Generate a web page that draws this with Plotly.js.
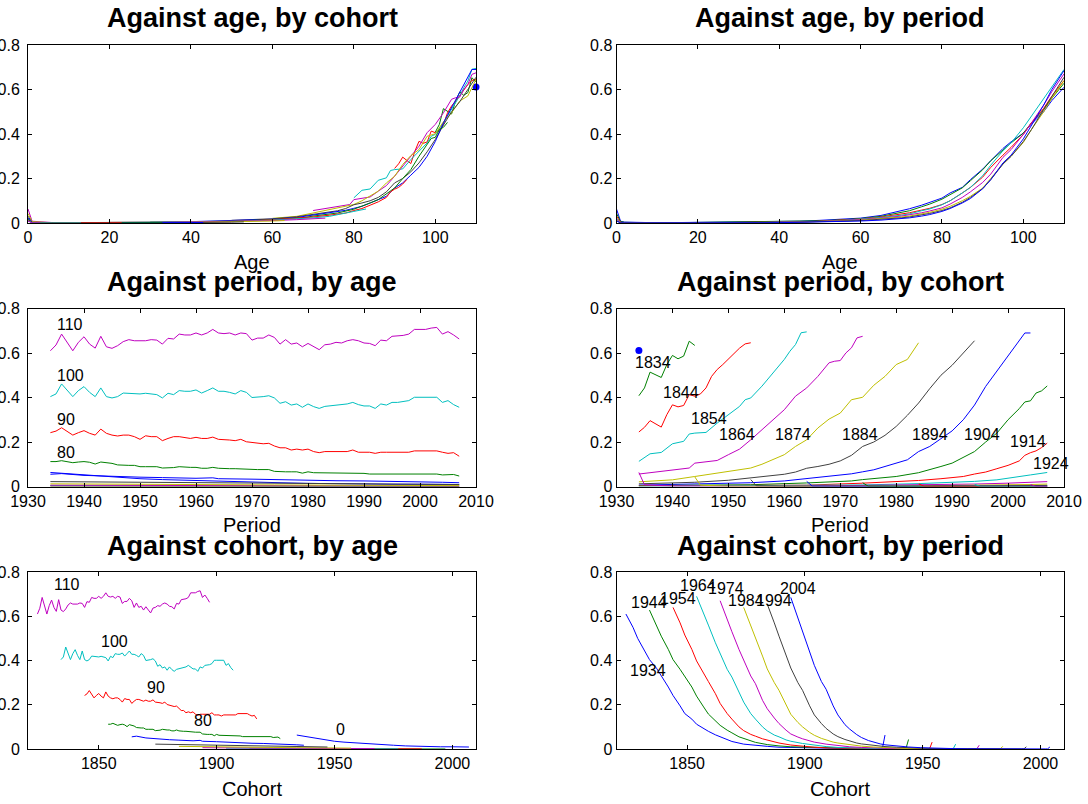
<!DOCTYPE html>
<html><head><meta charset="utf-8">
<script src="https://cdn.plot.ly/plotly-3.0.1.min.js"></script>
<style>html,body{margin:0;padding:0;background:#fff}#chart{width:1088px;height:804px}</style>
</head><body><div id="chart"></div>
<script>
// ---------------- data ----------------
const colorOrder = ['#0000ff','#008000','#ff0000','#00bfbf','#bf00bf','#bfbf00','#404040'];

// ---- by age (against period / against cohort) ----
const ageGroups = [0,10,20,30,40,50,60,70,80,90,100,110];
const yearsFull = [];
for (let y = 1934; y <= 2007; y++) yearsFull.push(y);
const sparsePeriods = [1934,1944,1954,1964,1974,1984,1994,2007];

const age0Periods = [1934,1937,1940,1944,1947,1950,1954,1958,1962,1966,1970,1975,1980,1985,1990,1995,2000,2004,2007];
const age0Q = [0.063,0.058,0.05,0.043,0.04,0.035,0.031,0.028,0.024,0.021,0.019,0.017,0.014,0.012,0.011,0.01,0.01,0.009,0.009];
const age10Q = [0.0012,0.0008,0.0005,0.0004,0.0003,0.0002,0.0002,0.0001];
const age20Q = [0.003,0.0025,0.001,0.001,0.001,0.0008,0.0007,0.0005];
const age30Q = [0.004,0.003,0.0015,0.001,0.001,0.001,0.0009,0.0008];
const age40Q = [0.006,0.005,0.003,0.003,0.0025,0.002,0.002,0.0015];
const age50Q = [0.012,0.01,0.008,0.007,0.007,0.006,0.005,0.004];
const age60Q = [0.022,0.02,0.018,0.017,0.015,0.013,0.011,0.009];
const age70Periods = [1934,1936,1940,1944,1950,1954,1960,1963,1964,1970,1975,1980,1985,1990,1995,2000,2004,2007];
const age70Q = [0.055,0.058,0.05,0.046,0.042,0.04,0.037,0.039,0.035,0.033,0.03,0.027,0.026,0.025,0.024,0.022,0.019,0.017];
const age80Q = [
 0.112,0.112,0.116,0.112,0.107,0.11,0.112,0.109,0.101,0.11,
 0.107,0.104,0.097,0.095,0.095,0.095,0.089,0.089,0.089,0.089,
 0.083,0.083,0.085,0.089,0.086,0.086,0.086,0.082,0.082,0.086,
 0.082,0.08,0.08,0.08,0.08,0.077,0.077,0.076,0.076,0.076,
 0.068,0.066,0.066,0.066,0.066,0.06,0.066,0.062,0.062,0.062,
 0.062,0.062,0.059,0.059,0.059,0.059,0.059,0.056,0.056,0.056,
 0.056,0.056,0.056,0.056,0.056,0.056,0.056,0.056,0.056,0.056,
 0.052,0.052,0.054,0.047];
const age90Q = [
 0.242,0.249,0.264,0.249,0.231,0.242,0.251,0.239,0.231,0.258,
 0.239,0.231,0.227,0.231,0.231,0.224,0.212,0.228,0.224,0.224,
 0.206,0.216,0.224,0.224,0.219,0.216,0.221,0.216,0.216,0.222,
 0.212,0.212,0.209,0.206,0.212,0.201,0.198,0.197,0.192,0.194,
 0.182,0.174,0.174,0.164,0.168,0.164,0.168,0.157,0.152,0.157,
 0.157,0.157,0.157,0.157,0.164,0.154,0.154,0.154,0.149,0.154,
 0.154,0.154,0.154,0.154,0.154,0.16,0.16,0.16,0.16,0.16,
 0.154,0.149,0.152,0.136];
const age100Q = [
 0.404,0.416,0.461,0.431,0.404,0.431,0.449,0.423,0.404,0.443,
 0.404,0.398,0.404,0.42,0.419,0.416,0.416,0.419,0.416,0.413,
 0.398,0.419,0.413,0.431,0.428,0.428,0.434,0.42,0.431,0.443,
 0.428,0.428,0.423,0.416,0.431,0.423,0.4,0.401,0.404,0.408,
 0.398,0.374,0.381,0.366,0.371,0.356,0.371,0.359,0.351,0.36,
 0.362,0.366,0.368,0.371,0.378,0.368,0.362,0.362,0.351,0.371,
 0.366,0.378,0.378,0.381,0.386,0.401,0.401,0.401,0.401,0.401,
 0.378,0.386,0.368,0.356];
const age110Q = [
 0.61,0.636,0.685,0.648,0.61,0.648,0.673,0.64,0.622,0.675,
 0.628,0.621,0.633,0.651,0.66,0.655,0.655,0.655,0.66,0.658,
 0.64,0.666,0.663,0.685,0.681,0.681,0.69,0.681,0.69,0.706,
 0.69,0.687,0.69,0.681,0.69,0.687,0.658,0.667,0.667,0.681,
 0.67,0.64,0.66,0.64,0.645,0.628,0.643,0.63,0.615,0.637,
 0.64,0.648,0.645,0.655,0.66,0.655,0.645,0.643,0.633,0.658,
 0.655,0.675,0.676,0.679,0.685,0.706,0.706,0.706,0.712,0.715,
 0.685,0.696,0.681,0.663];
const agePeriods = [age0Periods, sparsePeriods, sparsePeriods, sparsePeriods, sparsePeriods, sparsePeriods,
                    sparsePeriods, age70Periods, yearsFull, yearsFull, yearsFull, yearsFull];
const ageValues = [age0Q, age10Q, age20Q, age30Q, age40Q, age50Q, age60Q, age70Q, age80Q, age90Q, age100Q, age110Q];

// ---- by cohort (against age / against period) ----
const cohorts = [1824,1834,1844,1854,1864,1874,1884,1894,1904,1914,1924,1934,1944,1954,1964,1974,1984,1994,2004];
const cohortPeriods = [
 [1934],
 [1934,1935,1936,1937,1938,1939,1940,1941,1942,1943,1944],
 [1934,1935,1936,1937,1938,1939,1940,1941,1942,1943,1944,1945,1946,1947,1948,1949,1950,1951,1952,1953,1954],
 [1934,1936,1938,1940,1942,1943,1944,1946,1948,1950,1952,1953,1954,1956,1958,1960,1961,1962,1963,1964],
 [1934,1937,1940,1943,1944,1946,1948,1950,1952,1954,1956,1958,1960,1962,1964,1966,1968,1969,1970,1971,1972,1973,1974],
 [1934,1940,1944,1948,1950,1952,1954,1956,1958,1960,1962,1964,1966,1968,1970,1972,1974,1976,1978,1980,1982,1983,1984],
 [1934,1940,1944,1950,1954,1958,1960,1962,1964,1966,1968,1970,1972,1974,1976,1978,1980,1982,1984,1986,1988,1990,1992,1993,1994],
 [1934,1944,1954,1960,1964,1968,1972,1974,1976,1978,1980,1982,1984,1986,1988,1990,1992,1994,1996,1998,2000,2002,2003,2004],
 [1934,1944,1954,1964,1972,1974,1978,1980,1984,1986,1988,1990,1992,1994,1996,1998,2000,2002,2003,2004,2005,2006,2007],
 [1934,1944,1954,1964,1974,1980,1984,1988,1990,1992,1994,1996,1998,2000,2002,2003,2004,2005,2006,2007],
 [1934,1944,1954,1964,1974,1984,1990,1994,1998,2000,2002,2004,2007],
 [1934,1935,1940,1944,1954,1964,1974,1984,1994,2000,2004,2007],
 [1944,1945,1950,1954,1964,1974,1984,1994,2004,2007],
 [1954,1955,1960,1964,1974,1984,1994,2004,2007],
 [1964,1965,1970,1974,1984,1994,2004,2007],
 [1974,1975,1980,1984,1994,2004,2007],
 [1984,1985,1990,1994,2004,2007],
 [1994,1995,2000,2004,2007],
 [2004,2005,2007]
];
const cohortValues = [
 [0.611],
 [0.408,0.443,0.514,0.503,0.49,0.548,0.589,0.574,0.586,0.653,0.634],
 [0.245,0.266,0.296,0.282,0.267,0.323,0.367,0.358,0.364,0.413,0.406,0.416,0.443,0.495,0.526,0.548,0.574,0.598,0.622,0.641,0.646],
 [0.113,0.147,0.153,0.192,0.203,0.236,0.24,0.243,0.285,0.323,0.36,0.39,0.398,0.451,0.511,0.571,0.608,0.638,0.691,0.695],
 [0.056,0.065,0.075,0.083,0.105,0.11,0.117,0.143,0.168,0.21,0.255,0.303,0.345,0.406,0.443,0.495,0.556,0.563,0.566,0.6,0.623,0.668,0.675],
 [0.021,0.03,0.045,0.06,0.068,0.075,0.083,0.1,0.12,0.143,0.18,0.21,0.263,0.303,0.33,0.39,0.401,0.455,0.495,0.548,0.571,0.608,0.646],
 [0.012,0.015,0.019,0.028,0.04,0.05,0.055,0.065,0.082,0.09,0.1,0.115,0.14,0.18,0.2,0.23,0.27,0.32,0.375,0.44,0.5,0.545,0.6,0.63,0.655],
 [0.006,0.01,0.017,0.025,0.035,0.045,0.057,0.066,0.075,0.09,0.105,0.12,0.157,0.18,0.215,0.25,0.3,0.366,0.45,0.52,0.59,0.66,0.69,0.69],
 [0.004,0.006,0.008,0.016,0.025,0.031,0.04,0.045,0.062,0.075,0.09,0.105,0.13,0.157,0.2,0.24,0.3,0.35,0.38,0.385,0.42,0.43,0.452],
 [0.003,0.004,0.003,0.006,0.015,0.022,0.027,0.035,0.04,0.045,0.056,0.065,0.08,0.095,0.115,0.14,0.152,0.16,0.175,0.195],
 [0.0012,0.0025,0.002,0.003,0.007,0.013,0.018,0.023,0.03,0.037,0.042,0.052,0.063],
 [0.063,0.008,0.002,0.0012,0.001,0.002,0.004,0.007,0.011,0.015,0.019,0.022],
 [0.043,0.006,0.001,0.0008,0.001,0.0015,0.003,0.005,0.009,0.011],
 [0.031,0.003,0.0006,0.0005,0.001,0.001,0.002,0.004,0.005],
 [0.023,0.002,0.0005,0.0004,0.0008,0.001,0.0015,0.002],
 [0.017,0.0012,0.0004,0.0003,0.0007,0.0008,0.001],
 [0.012,0.0008,0.0003,0.0002,0.0007,0.0008],
 [0.01,0.0006,0.0002,0.0001,0.0003],
 [0.009,0.0004,0.0002]
];

// ---- by period (against age / against cohort) ----
const periods = [1934,1944,1954,1964,1974,1984,1994,2004];
const periodAges = [0,1,2,5,10,15,20,25,30,35,40,45,50,55,60,65,70,72,75,77,80,82,85,87,90,92,95,97,100,102,105,107,110];
const q1934 = [0.063,0.008,0.004,0.002,0.0012,0.002,0.003,0.0035,0.004,0.0045,0.006,0.008,0.012,0.016,0.022,0.034,
               0.055,0.064,0.08,0.092,0.112,0.135,0.16,0.195,0.242,0.28,0.335,0.365,0.404,0.445,0.5,0.55,0.61];
const q1944 = [0.043,0.006,0.003,0.0015,0.0008,0.0015,0.0025,0.003,0.003,0.004,0.005,0.007,0.01,0.014,0.02,0.03,
               0.046,0.055,0.073,0.085,0.107,0.128,0.158,0.19,0.239,0.28,0.33,0.36,0.404,0.45,0.51,0.56,0.628];
const q1954 = [0.031,0.003,0.0015,0.0008,0.0005,0.0007,0.001,0.0012,0.0015,0.002,0.003,0.005,0.008,0.012,0.018,0.027,
               0.04,0.046,0.058,0.066,0.083,0.1,0.135,0.16,0.206,0.25,0.305,0.34,0.398,0.45,0.515,0.57,0.64];
const q1964 = [0.022,0.002,0.001,0.0006,0.0004,0.0006,0.001,0.001,0.001,0.002,0.003,0.004,0.007,0.011,0.017,0.025,
               0.035,0.041,0.055,0.063,0.082,0.1,0.135,0.16,0.212,0.26,0.325,0.36,0.428,0.48,0.56,0.61,0.69];
const q1974 = [0.017,0.0012,0.0008,0.0005,0.0003,0.0006,0.001,0.001,0.001,0.0015,0.0025,0.004,0.007,0.01,0.015,0.022,
               0.031,0.036,0.046,0.054,0.068,0.085,0.115,0.14,0.182,0.22,0.295,0.33,0.398,0.45,0.53,0.59,0.67];
const q1984 = [0.012,0.0008,0.0005,0.0003,0.0002,0.0004,0.0008,0.0008,0.001,0.0013,0.002,0.0035,0.006,0.009,0.013,0.019,
               0.027,0.031,0.04,0.048,0.062,0.075,0.1,0.12,0.157,0.2,0.265,0.3,0.362,0.42,0.5,0.56,0.64];
const q1994 = [0.01,0.0006,0.0004,0.0002,0.0002,0.0003,0.0007,0.0007,0.0009,0.0012,0.002,0.003,0.005,0.008,0.011,0.016,
               0.023,0.027,0.035,0.043,0.056,0.068,0.093,0.115,0.154,0.195,0.265,0.3,0.366,0.42,0.51,0.57,0.655];
const q2004 = [0.009,0.0004,0.0003,0.0001,0.0001,0.0002,0.0005,0.0006,0.0008,0.001,0.0015,0.0025,0.004,0.006,0.009,0.013,
               0.019,0.023,0.031,0.038,0.052,0.065,0.09,0.11,0.154,0.195,0.27,0.305,0.378,0.44,0.53,0.6,0.685];
const periodValues = [q1934,q1944,q1954,q1964,q1974,q1984,q1994,q2004];

// ---- text labels placed in the panels ----
const lblPA_text = ['110','100','90','80'];
const lblPA_x = [1935,1935,1935,1935];
const lblPA_y = [0.726,0.501,0.299,0.153];
const lblPC_text = ['1834','1844','1854','1864','1874','1884','1894','1904','1914','1924'];
const lblPC_x = [1933.1,1938.2,1943.1,1948.2,1958.2,1970.1,1982.7,1992,2000.2,2004.2];
const lblPC_y = [0.557,0.423,0.306,0.233,0.233,0.233,0.233,0.233,0.203,0.102];
const lblCA_text = ['110','100','90','80','0'];
const lblCA_x = [1830.4,1850.7,1870,1890,1950];
const lblCA_y = [0.742,0.484,0.278,0.127,0.09];
const lblCP_text = ['1934','1944','1954','1964','1974','1984','1994','2004'];
const lblCP_x = [1825.5,1825.8,1838.2,1846.7,1858.4,1867.1,1878.9,1889.2];
const lblCP_y = [0.357,0.664,0.682,0.737,0.724,0.672,0.672,0.724];

// ---------------- build ----------------
const FONT = '"Liberation Sans", Arial, Helvetica, sans-serif';
const W = 1088, H = 804;
const colL = [28, 476], colR = [616.5, 1064];
const rowsPx = [[45, 223], [308.5, 486.5], [572, 749]];
const xd = c => [c[0] / W, c[1] / W];
const yd = r => [1 - r[1] / H, 1 - r[0] / H];

const traces = [];
function line(x, y, ax, color, single) {
  traces.push({
    type: 'scatter', mode: single ? 'markers' : 'lines', x: x, y: y,
    xaxis: 'x' + (ax === 1 ? '' : ax), yaxis: 'y' + (ax === 1 ? '' : ax),
    line: {color: color, width: 1}, marker: {color: color, size: 7},
    cliponaxis: !single, hoverinfo: 'skip', showlegend: false
  });
}

// panel 1: against age, by cohort
cohorts.forEach((c, i) => {
  const P = cohortPeriods[i];
  line(P.map(p => p - c), cohortValues[i], 1, colorOrder[i % 7], P.length === 1);
});
// panel 2: against age, by period
periods.forEach((p, j) => line(periodAges, periodValues[j], 2, colorOrder[j % 7], false));
// panel 3: against period, by age
ageGroups.forEach((a, k) => line(agePeriods[k], ageValues[k], 3, colorOrder[k % 7], false));
// panel 4: against period, by cohort
cohorts.forEach((c, i) => {
  const P = cohortPeriods[i];
  line(P, cohortValues[i], 4, colorOrder[i % 7], P.length === 1);
});
// panel 5: against cohort, by age
ageGroups.forEach((a, k) => line(agePeriods[k].map(p => p - a), ageValues[k], 5, colorOrder[k % 7], false));
// panel 6: against cohort, by period
periods.forEach((p, j) => line(periodAges.map(a => p - a), periodValues[j], 6, colorOrder[j % 7], false));

const axBase = {
  showline: true, linecolor: '#000', linewidth: 1, mirror: 'ticks',
  ticks: 'inside', ticklen: 4, tickcolor: '#000', tickwidth: 1,
  showgrid: false, zeroline: false, fixedrange: true, automargin: false,
  tickfont: {family: FONT, size: 16, color: '#000'}
};
const yTicks = {range: [0, 0.8], tickvals: [0, 0.2, 0.4, 0.6, 0.8], ticktext: ['0', '0.2', '0.4', '0.6', '0.8']};
const xAge = {range: [0, 110], tickvals: [0, 20, 40, 60, 80, 100]};
const xPer = {range: [1930, 2010], tickvals: [1930, 1940, 1950, 1960, 1970, 1980, 1990, 2000, 2010]};
const xCoh = {range: [1820, 2010], tickvals: [1850, 1900, 1950, 2000]};

const layout = {
  width: W, height: H, margin: {l: 0, r: 0, t: 0, b: 0},
  paper_bgcolor: '#fff', plot_bgcolor: '#fff', showlegend: false,
  font: {family: FONT, color: '#000'},
  annotations: []
};
const panels = [
  {col: colL, row: rowsPx[0], x: xAge, so: 4},
  {col: colR, row: rowsPx[0], x: xAge, so: 0},
  {col: colL, row: rowsPx[1], x: xPer, so: 4},
  {col: colR, row: rowsPx[1], x: xPer, so: 0},
  {col: colL, row: rowsPx[2], x: xCoh, so: 4},
  {col: colR, row: rowsPx[2], x: xCoh, so: 0}
];
panels.forEach((p, i) => {
  const n = i + 1, s = n === 1 ? '' : String(n);
  layout['xaxis' + s] = Object.assign({}, axBase, p.x, {domain: xd(p.col), anchor: 'y' + s});
  layout['yaxis' + s] = Object.assign({}, axBase, yTicks, {domain: yd(p.row), anchor: 'x' + s, ticklabelstandoff: p.so});
});

const titles = ['Against age, by cohort', 'Against age, by period', 'Against period, by age',
                'Against period, by cohort', 'Against cohort, by age', 'Against cohort, by period'];
const titleY = [18, 18, 282, 282, 546, 546];
const xlabels = ['Age', 'Age', 'Period', 'Period', 'Cohort', 'Cohort'];
const xlabelY = [262, 262, 525, 525, 789, 789];
panels.forEach((p, i) => {
  const cx = (p.col[0] + p.col[1]) / 2 / W;
  layout.annotations.push({xref: 'paper', yref: 'paper', x: cx, y: 1 - xlabelY[i] / H,
    xanchor: 'center', yanchor: 'middle', showarrow: false, text: xlabels[i], borderpad: 0,
    font: {family: FONT, size: 20, color: '#000'}});
});
panels.forEach((p, i) => {
  const cx = (p.col[0] + p.col[1]) / 2 / W;
  layout.annotations.push({xref: 'paper', yref: 'paper', x: cx, y: 1 - titleY[i] / H,
    xanchor: 'center', yanchor: 'middle', showarrow: false, text: '<b>' + titles[i] + '</b>', borderpad: 0,
    font: {family: FONT, size: 27, color: '#000'}});
});
function labels(ax, T, X, Y) {
  T.forEach((t, i) => layout.annotations.push({xref: 'x' + ax, yref: 'y' + ax, x: X[i], y: Y[i],
    xanchor: 'left', yanchor: 'middle', showarrow: false, text: t, borderpad: 0,
    font: {family: FONT, size: 16, color: '#000'}}));
}
labels(3, lblPA_text, lblPA_x, lblPA_y);
labels(4, lblPC_text, lblPC_x, lblPC_y);
labels(5, lblCA_text, lblCA_x, lblCA_y);
labels(6, lblCP_text, lblCP_x, lblCP_y);

Plotly.newPlot('chart', traces, layout, {displayModeBar: false, staticPlot: true});
</script>
</body></html>
